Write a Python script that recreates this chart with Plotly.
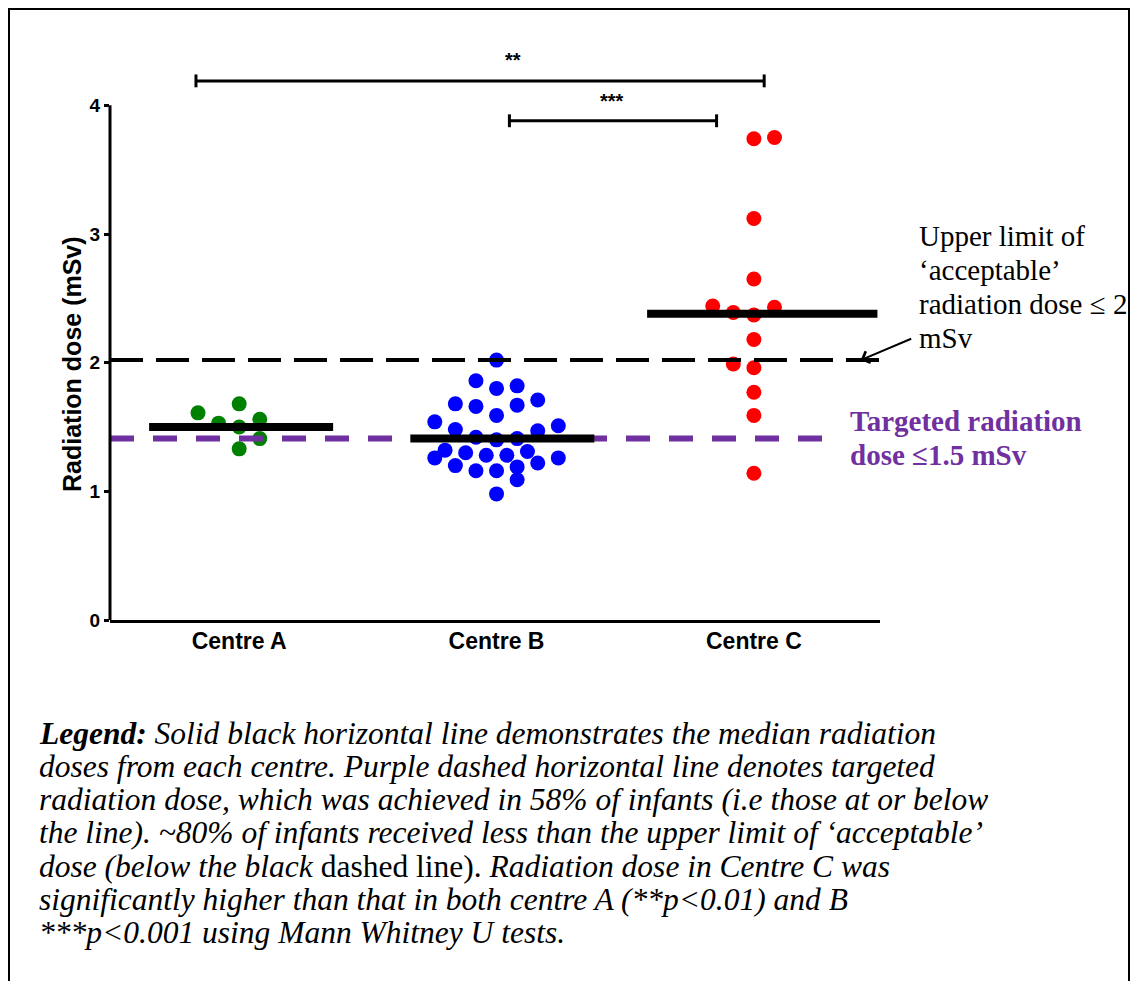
import plotly.graph_objects as go

# ---------------- data ----------------
centres = ["Centre A", "Centre B", "Centre C"]
centre_pos = [1, 2, 3]

a_dose = [1.61, 1.68, 1.53, 1.56, 1.50, 1.41, 1.33]
a_off = [-0.16, 0.0, -0.08, 0.08, 0.0, 0.08, 0.0]

b_dose = [2.02, 1.86, 1.80, 1.82, 1.68, 1.66, 1.67, 1.71, 1.59, 1.54,
          1.48, 1.47, 1.51, 1.42, 1.40, 1.41, 1.32, 1.26, 1.30, 1.28,
          1.28, 1.31, 1.26, 1.20, 1.16, 1.16, 1.19, 1.22, 1.09, 0.98]
b_off = [0.0, -0.08, 0.0, 0.08, -0.16, -0.08, 0.08, 0.16, 0.0, -0.24,
         -0.16, 0.16, 0.24, -0.08, 0.0, 0.08, -0.20, -0.24, -0.12, -0.04,
         0.04, 0.12, 0.24, -0.16, -0.08, 0.0, 0.08, 0.16, 0.08, 0.0]

c_dose = [3.74, 3.75, 3.12, 2.65, 2.44, 2.43, 2.39, 2.37, 2.18, 1.99,
          1.96, 1.77, 1.59, 1.14]
c_off = [0.0, 0.08, 0.0, 0.0, -0.16, 0.08, -0.08, 0.0, 0.0, -0.08,
         0.0, 0.0, 0.0, 0.0]

medians = [1.50, 1.41, 2.38]
median_x0 = [0.65, 1.665, 2.585]
median_x1 = [1.365, 2.38, 3.48]

upper_limit = 2.02
target_line = 1.41
target_x_end = 3.28

sig_labels = ["**", "***"]
sig_x0 = [0.832, 2.05]
sig_x1 = [3.04, 2.855]
sig_y = [4.19, 3.88]
sig_label_x = [2.064, 2.449]
sig_label_y = [4.35, 4.03]

y_ticks = [0, 1, 2, 3, 4]

legend_lines = [
    "<b><i>Legend:</i></b><i> Solid black horizontal line demonstrates the median radiation</i>",
    "<i>doses from each centre. Purple dashed horizontal line denotes targeted</i>",
    "<i>radiation dose, which was achieved in 58% of infants (i.e those at or below</i>",
    "<i>the line). ~80% of infants received less than the upper limit of \u2018acceptable\u2019</i>",
    "<i>dose (below the black</i> dashed line). <i>Radiation dose in Centre C was</i>",
    "<i>significantly higher than that in both centre A (**p&lt;0.01) and B</i>",
    "<i>***p&lt;0.001 using Mann Whitney U tests.</i>",
]
upper_text = ["Upper limit of", "\u2018acceptable\u2019", "radiation dose \u2264 2", "mSv"]
target_text = ["<b>Targeted radiation</b>", "<b>dose \u22641.5 mSv</b>"]

# ---------------- layout geometry ----------------
W, H = 1131, 981
L, R, T, B = 110, 251, 41, 361
PW = W - L - R
PH = H - T - B


def px(x):
    return (x - L) / PW


def py(y):
    return (H - B - y) / PH


SANS = "Liberation Sans, Arial, sans-serif"
SERIF = "Liberation Serif, Times New Roman, serif"
GREEN, BLUE, RED = "#008000", "#0000FF", "#FF0000"
PURPLE = "#7030A0"

fig = go.Figure()

for pos, dose, off, col in [(1, a_dose, a_off, GREEN),
                            (2, b_dose, b_off, BLUE),
                            (3, c_dose, c_off, RED)]:
    fig.add_trace(go.Scatter(
        x=[pos + o for o in off], y=dose, mode="markers",
        marker=dict(size=15, color=col, line=dict(width=0)),
        showlegend=False, hoverinfo="skip"))

# reference lines
fig.add_trace(go.Scatter(
    x=[0.498, target_x_end], y=[target_line, target_line], mode="lines",
    line=dict(color=PURPLE, width=6, dash="24px,19px"),
    showlegend=False, hoverinfo="skip"))
fig.add_trace(go.Scatter(
    x=[0.498, 3.49], y=[upper_limit, upper_limit], mode="lines",
    line=dict(color="black", width=4, dash="33px,13px"),
    showlegend=False, hoverinfo="skip"))

# median lines
for m, x0, x1 in zip(medians, median_x0, median_x1):
    fig.add_trace(go.Scatter(
        x=[x0, x1], y=[m, m], mode="lines",
        line=dict(color="black", width=8),
        showlegend=False, hoverinfo="skip"))

# significance brackets
cap = 0.05
for lab, x0, x1, yv, lx, ly in zip(sig_labels, sig_x0, sig_x1, sig_y,
                                   sig_label_x, sig_label_y):
    fig.add_trace(go.Scatter(
        x=[x0, x0, None, x0, x1, None, x1, x1],
        y=[yv - cap, yv + cap, None, yv, yv, None, yv - cap, yv + cap],
        mode="lines", line=dict(color="black", width=3),
        showlegend=False, hoverinfo="skip"))
    fig.add_annotation(x=lx, y=ly, xref="x", yref="y", text="<b>%s</b>" % lab,
                       showarrow=False, font=dict(family=SANS, size=20, color="black"))

shapes = [
    # y axis line (only 0..4)
    dict(type="line", xref="paper", yref="y", x0=0, x1=0, y0=0, y1=4,
         line=dict(color="black", width=3)),
    # frame around the whole figure
    dict(type="path", xref="paper", yref="paper",
         path="M %f,%f L %f,%f L %f,%f L %f,%f" % (px(9), py(1000), px(9), py(9),
                                                   px(1129), py(9), px(1129), py(1000)),
         line=dict(color="black", width=2)),
]

annotations = []
# y axis title
annotations.append(dict(x=px(72), y=py(364), xref="paper", yref="paper",
                        xanchor="center", yanchor="middle",
                        text="<b>Radiation dose (mSv)</b>", textangle=-90,
                        showarrow=False,
                        font=dict(family=SANS, size=25, color="black")))
# arrow to upper limit line
annotations.append(dict(x=3.415, y=upper_limit, xref="x", yref="y", text="",
                        showarrow=True, arrowhead=4, arrowsize=1.2, arrowwidth=2,
                        arrowcolor="black", ax=52, ay=-22, standoff=0))
for i, t in enumerate(upper_text):
    annotations.append(dict(x=px(917), y=py(236 + 34 * i), xref="paper", yref="paper",
                            text=t, showarrow=False, xanchor="left", yanchor="middle",
                            font=dict(family=SERIF, size=29, color="black")))
for i, t in enumerate(target_text):
    annotations.append(dict(x=px(848), y=py(421 + 34 * i), xref="paper", yref="paper",
                            text=t, showarrow=False, xanchor="left", yanchor="middle",
                            font=dict(family=SERIF, size=29, color=PURPLE)))
for i, t in enumerate(legend_lines):
    annotations.append(dict(x=px(37), y=py(733 + 33.3 * i), xref="paper", yref="paper",
                            text=t, showarrow=False, xanchor="left", yanchor="middle",
                            font=dict(family=SERIF, size=31.5, color="black")))

fig.update_layout(
    width=W, height=H,
    margin=dict(l=L, r=R, t=T, b=B, pad=0),
    paper_bgcolor="white", plot_bgcolor="white",
    showlegend=False,
    shapes=shapes,
    xaxis=dict(range=[0.498, 3.49], showline=True, linecolor="black", linewidth=3,
               tickvals=centre_pos, ticktext=["<b>%s</b>" % c for c in centres],
               ticks="", showgrid=False, zeroline=False, ticklabelstandoff=-2,
               tickfont=dict(family=SANS, size=23, color="black")),
    yaxis=dict(range=[0, 4.5], showline=False, tickvals=y_ticks,
               ticktext=["<b>%d</b>" % v for v in y_ticks],
               ticks="outside", ticklen=5, tickwidth=3, tickcolor="black",
               showgrid=False, zeroline=False,
               tickfont=dict(family=SANS, size=19, color="black")),
)
fig.update_layout(annotations=list(fig.layout.annotations) + annotations)

fig.write_html("out.html")
